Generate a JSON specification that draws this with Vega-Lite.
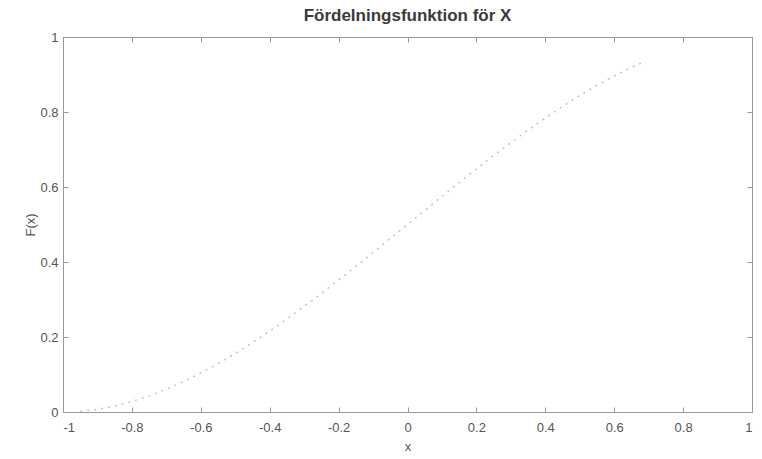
{
  "$schema": "https://vega.github.io/schema/vega-lite/v6.json",
  "width": 689,
  "height": 375,
  "autosize": {"type": "none"},
  "padding": {"left": 63, "top": 37, "right": 10, "bottom": 47},
  "background": "white",
  "title": {"text": "Fördelningsfunktion för X", "font": "Liberation Sans", "fontSize": 17, "fontWeight": "bold", "color": "#3a3a3a", "offset": 6},
  "config": {
    "view": {"stroke": "#999", "strokeWidth": 1},
    "axis": {"labelFont": "Liberation Sans", "titleFont": "Liberation Sans", "labelFontSize": 13, "titleFontSize": 13, "labelColor": "#555", "titleColor": "#555", "titleFontWeight": "normal", "domainColor": "#999", "tickColor": "#999", "grid": false}
  },
  "data": {"values": [
    {"x": -0.95, "F": 0.002}, {"x": -0.9, "F": 0.007}, {"x": -0.85, "F": 0.016}, {"x": -0.8, "F": 0.028},
    {"x": -0.75, "F": 0.043}, {"x": -0.7, "F": 0.061}, {"x": -0.65, "F": 0.081}, {"x": -0.6, "F": 0.104},
    {"x": -0.55, "F": 0.129}, {"x": -0.5, "F": 0.156}, {"x": -0.45, "F": 0.185}, {"x": -0.4, "F": 0.216},
    {"x": -0.35, "F": 0.248}, {"x": -0.3, "F": 0.282}, {"x": -0.25, "F": 0.316}, {"x": -0.2, "F": 0.352},
    {"x": -0.15, "F": 0.388}, {"x": -0.1, "F": 0.425}, {"x": -0.05, "F": 0.463}, {"x": 0, "F": 0.5},
    {"x": 0.05, "F": 0.537}, {"x": 0.1, "F": 0.575}, {"x": 0.15, "F": 0.612}, {"x": 0.2, "F": 0.648},
    {"x": 0.25, "F": 0.684}, {"x": 0.3, "F": 0.718}, {"x": 0.35, "F": 0.752}, {"x": 0.4, "F": 0.784},
    {"x": 0.45, "F": 0.815}, {"x": 0.5, "F": 0.844}, {"x": 0.55, "F": 0.871}, {"x": 0.6, "F": 0.896},
    {"x": 0.65, "F": 0.919}, {"x": 0.68, "F": 0.931}
  ]},
  "layer": [
    {
      "mark": {"type": "line", "color": "#c4c4c4", "strokeWidth": 1.5, "strokeDash": [2, 5]},
      "encoding": {
        "x": {"field": "x", "type": "quantitative", "scale": {"domain": [-1, 1], "nice": false, "zero": false},
              "axis": {"title": "x", "values": [-1, -0.8, -0.6, -0.4, -0.2, 0, 0.2, 0.4, 0.6, 0.8, 1], "labelExpr": "replace(format(datum.value, '.1~f'), '\u2212', '-')", "tickSize": -5, "labelPadding": 14, "titlePadding": 6}},
        "y": {"field": "F", "type": "quantitative", "scale": {"domain": [0, 1], "nice": false},
              "axis": {"title": "F(x)", "values": [0, 0.2, 0.4, 0.6, 0.8, 1], "labelExpr": "replace(format(datum.value, '.1~f'), '\u2212', '-')", "tickSize": -5, "labelPadding": 10, "titlePadding": 2}}
      }
    },
    {
      "mark": {"type": "line", "opacity": 0},
      "encoding": {
        "x": {"field": "x", "type": "quantitative", "axis": {"orient": "top", "title": null, "labels": false, "values": [-1, -0.8, -0.6, -0.4, -0.2, 0, 0.2, 0.4, 0.6, 0.8, 1], "tickSize": -5}},
        "y": {"field": "F", "type": "quantitative", "axis": {"orient": "right", "title": null, "labels": false, "values": [0, 0.2, 0.4, 0.6, 0.8, 1], "tickSize": -5}}
      }
    }
  ],
  "resolve": {"axis": {"x": "independent", "y": "independent"}}
}
